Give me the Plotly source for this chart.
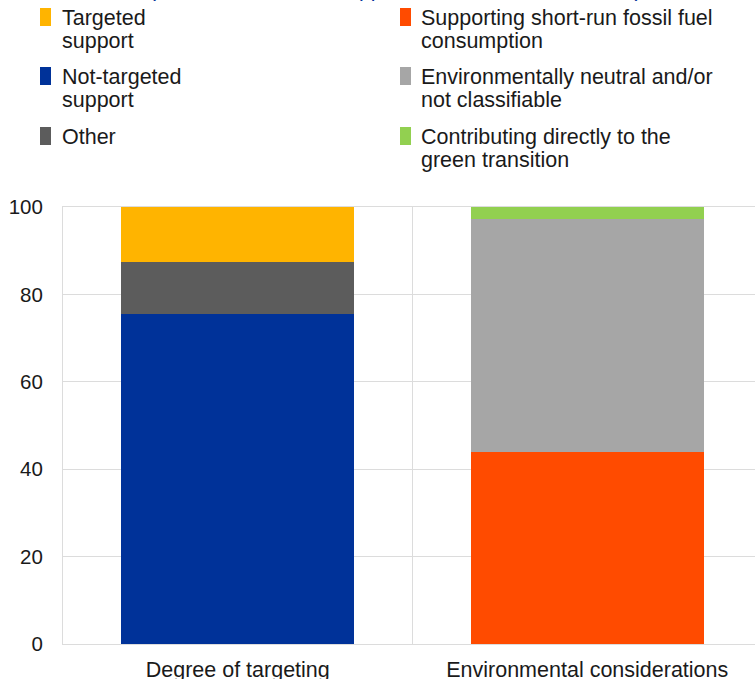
import plotly.graph_objects as go

categories = ["Degree of targeting", "Environmental considerations"]

# Degree of targeting series
targeting_names = ["Not-targeted<br>support", "Other", "Targeted<br>support"]
targeting_values = [75.5, 12.0, 12.5]
targeting_colors = ["#003299", "#5C5C5C", "#FFB400"]

# Environmental series
env_names = ["Supporting short-run fossil fuel<br>consumption",
             "Environmentally neutral and/or<br>not classifiable",
             "Contributing directly to the<br>green transition"]
env_values = [44.0, 53.3, 2.7]
env_colors = ["#FF4B00", "#A6A6A6", "#92D050"]

y_ticks = [0, 20, 40, 60, 80, 100]
title_text = "(share of total fiscal support measures over 2022-23)"

W, H = 755, 679
L, R, T, B = 63, 0, 207, 35
pw, ph = W - L - R, H - T - B

def px2x(px):
    return (px - L) / pw

def py2y(py):
    return (H - B - py) / ph

fig = go.Figure()
for n, v, c in zip(targeting_names, targeting_values, targeting_colors):
    fig.add_trace(go.Bar(x=[categories[0]], y=[v], name=n, marker_color=c,
                         marker_line_width=0, width=0.667, showlegend=False))
for n, v, c in zip(env_names, env_values, env_colors):
    fig.add_trace(go.Bar(x=[categories[1]], y=[v], name=n, marker_color=c,
                         marker_line_width=0, width=0.667, showlegend=False))

font_family = "Arial, 'Liberation Sans', sans-serif"
txt_color = "#1a1a1a"
grid_color = "#DCDCDC"

# manual legend: (name, color) in two columns, three rows
left_col = [(targeting_names[2], targeting_colors[2]),
            (targeting_names[0], targeting_colors[0]),
            (targeting_names[1], targeting_colors[1])]
right_col = [(env_names[0], env_colors[0]),
             (env_names[1], env_colors[1]),
             (env_names[2], env_colors[2])]
row_tops = [8, 67, 127]
line_gap = 23

shapes = []
annotations = []
for col, sx, tx in [(left_col, 40, 60), (right_col, 400, 419)]:
    for (name, color), top in zip(col, row_tops):
        shapes.append(dict(type="rect", xref="paper", yref="paper",
                           x0=px2x(sx), x1=px2x(sx + 11),
                           y0=py2y(top + 18), y1=py2y(top),
                           fillcolor=color, line_width=0, layer="above"))
        for i, line in enumerate(name.split("<br>")):
            annotations.append(dict(text=line, xref="paper", yref="paper",
                                    x=px2x(tx), y=py2y(top + 10 + i * line_gap),
                                    xanchor="left", yanchor="middle",
                                    showarrow=False,
                                    font=dict(size=21.5, color=txt_color, family=font_family)))

annotations.append(dict(text=title_text, xref="paper", yref="paper",
                        x=px2x(147), y=py2y(3), xanchor="left", yanchor="bottom",
                        showarrow=False,
                        font=dict(size=21, color="#003299", family=font_family)))

fig.update_layout(
    barmode="stack",
    width=W, height=H,
    margin=dict(l=L, r=R, t=T, b=B, pad=0, autoexpand=False),
    plot_bgcolor="white", paper_bgcolor="white",
    bargap=0.333,
    shapes=shapes,
    annotations=annotations,
    font=dict(family=font_family, size=20.5, color=txt_color),
    xaxis=dict(type="category", range=[-0.5, 1.48], tickson="boundaries",
               showgrid=True, gridcolor=grid_color, gridwidth=1,
               ticks="", showline=True, linecolor=grid_color, linewidth=1,
               mirror=True, zeroline=False, ticklabelstandoff=6,
               automargin=False,
               tickfont=dict(size=21.5, color=txt_color)),
    yaxis=dict(range=[0, 100], tickvals=y_ticks, showgrid=True,
               gridcolor=grid_color, gridwidth=1, zeroline=False,
               showline=True, linecolor=grid_color, linewidth=1,
               ticks="", ticklabelstandoff=15, automargin=False,
               tickfont=dict(size=20.5, color=txt_color)),
)

fig.write_html("out.html")
